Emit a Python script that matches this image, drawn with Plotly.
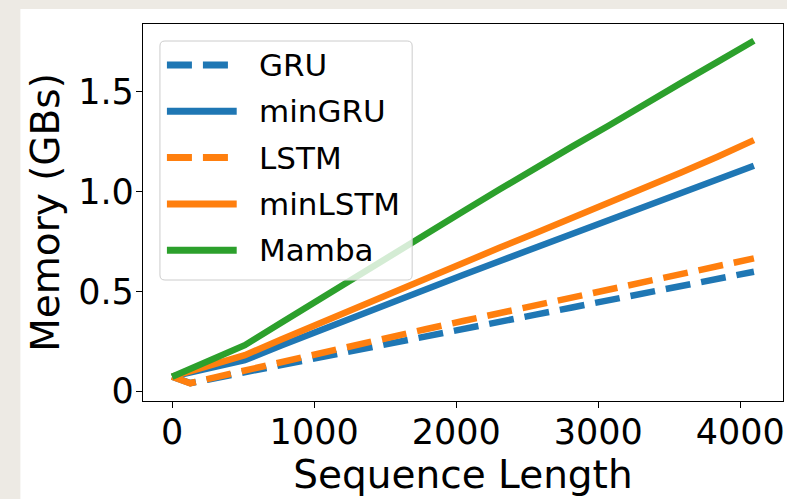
import plotly.graph_objects as go

seq_len = [0, 128, 256, 512, 768, 1024, 1280, 1536, 1792, 2048, 2304, 2560,
           2816, 3072, 3328, 3584, 3840, 4096]

gru = [0.072, 0.040, 0.058, 0.095, 0.131, 0.167, 0.203, 0.239, 0.275, 0.311,
       0.347, 0.383, 0.419, 0.455, 0.491, 0.527, 0.562, 0.598]
min_gru = [0.072, 0.093, 0.113, 0.155, 0.228, 0.300, 0.372, 0.443, 0.513, 0.582,
           0.651, 0.720, 0.790, 0.860, 0.928, 0.995, 1.068, 1.129]
lstm = [0.072, 0.039, 0.061, 0.104, 0.147, 0.190, 0.230, 0.271, 0.311, 0.351,
        0.391, 0.432, 0.472, 0.510, 0.549, 0.588, 0.626, 0.665]
min_lstm = [0.072, 0.099, 0.126, 0.180, 0.258, 0.335, 0.415, 0.495, 0.570, 0.645,
            0.718, 0.792, 0.866, 0.940, 1.015, 1.095, 1.175, 1.258]
mamba = [0.072, 0.112, 0.151, 0.230, 0.342, 0.455, 0.567, 0.678, 0.790, 0.900,
         1.010, 1.120, 1.225, 1.330, 1.440, 1.545, 1.650, 1.756]

names = ["GRU", "minGRU", "LSTM", "minLSTM", "Mamba"]
series = [gru, min_gru, lstm, min_lstm, mamba]
colors = ["#1f77b4", "#1f77b4", "#ff7f0e", "#ff7f0e", "#2ca02c"]
dashes = ["25px,11px", "solid", "25px,11px", "solid", "solid"]

y_ticks = [0, 0.5, 1.0, 1.5]
y_tick_text = ["0", "0.5", "1.0", "1.5"]
x_ticks = [0, 1000, 2000, 3000, 4000]

FONT = "DejaVu Sans"

W, H = 787, 499
L, R, T, B = 143, 2, 24, 98
pw, ph = W - L - R, H - T - B


def px_x(px):
    return (px - L) / pw


def px_y(py):
    return (H - B - py) / ph


fig = go.Figure()
for name, ys, c, d in zip(names, series, colors, dashes):
    fig.add_trace(go.Scatter(
        x=seq_len, y=ys, name=name, mode="lines",
        line=dict(color=c, width=6.5, dash=d),
        showlegend=False,
    ))

# white figure area over the beige page
fig.add_shape(type="rect", xref="paper", yref="paper",
              x0=px_x(20), x1=1.05, y0=-0.4, y1=px_y(9),
              fillcolor="white", line=dict(width=0), layer="below")

# legend box (rounded), drawn above the lines like a semi-opaque legend
bx0, bx1, by0, by1, rr = 160, 413, 41, 280, 5
path = (f"M {px_x(bx0 + rr)},{px_y(by0)} L {px_x(bx1 - rr)},{px_y(by0)} "
        f"Q {px_x(bx1)},{px_y(by0)} {px_x(bx1)},{px_y(by0 + rr)} "
        f"L {px_x(bx1)},{px_y(by1 - rr)} "
        f"Q {px_x(bx1)},{px_y(by1)} {px_x(bx1 - rr)},{px_y(by1)} "
        f"L {px_x(bx0 + rr)},{px_y(by1)} "
        f"Q {px_x(bx0)},{px_y(by1)} {px_x(bx0)},{px_y(by1 - rr)} "
        f"L {px_x(bx0)},{px_y(by0 + rr)} "
        f"Q {px_x(bx0)},{px_y(by0)} {px_x(bx0 + rr)},{px_y(by0)} Z")
fig.add_shape(type="path", xref="paper", yref="paper", path=path,
              fillcolor="rgba(255,255,255,0.8)",
              line=dict(color="#cccccc", width=1), layer="above")

item_y0, item_dy = 65, 46.3
for i, (name, c, d) in enumerate(zip(names, colors, dashes)):
    yc = item_y0 + i * item_dy
    fig.add_shape(type="line", xref="paper", yref="paper",
                  x0=px_x(167), x1=px_x(237), y0=px_y(yc), y1=px_y(yc),
                  line=dict(color=c, width=7, dash=d), layer="above")
    fig.add_annotation(xref="paper", yref="paper", x=px_x(257), y=px_y(yc),
                       text=name, showarrow=False, xanchor="left", yanchor="middle",
                       font=dict(family=FONT, size=31, color="black"))

axis_common = dict(
    showline=True, linecolor="black", linewidth=1.2, mirror=True,
    ticks="outside", ticklen=6, tickwidth=1.2, tickcolor="black",
    showgrid=False, zeroline=False,
    tickfont=dict(family=FONT, size=35, color="black"),
)

fig.update_layout(
    width=W, height=H,
    margin=dict(l=L, r=R, t=T, b=B),
    paper_bgcolor="#edeae4",
    plot_bgcolor="white",
    font=dict(family=FONT, color="black"),
    xaxis=dict(range=[-204.8, 4300.8], tickvals=x_ticks, ticklabelstandoff=-6,
               title=dict(text="Sequence Length", font=dict(family=FONT, size=39), standoff=4),
               **axis_common),
    yaxis=dict(range=[-0.050, 1.840], tickvals=y_ticks, ticktext=y_tick_text,
               ticklabelstandoff=-5,
               title=dict(text="Memory (GBs)", font=dict(family=FONT, size=39), standoff=6),
               **axis_common),
    showlegend=False,
)

fig.write_html("out.html")
